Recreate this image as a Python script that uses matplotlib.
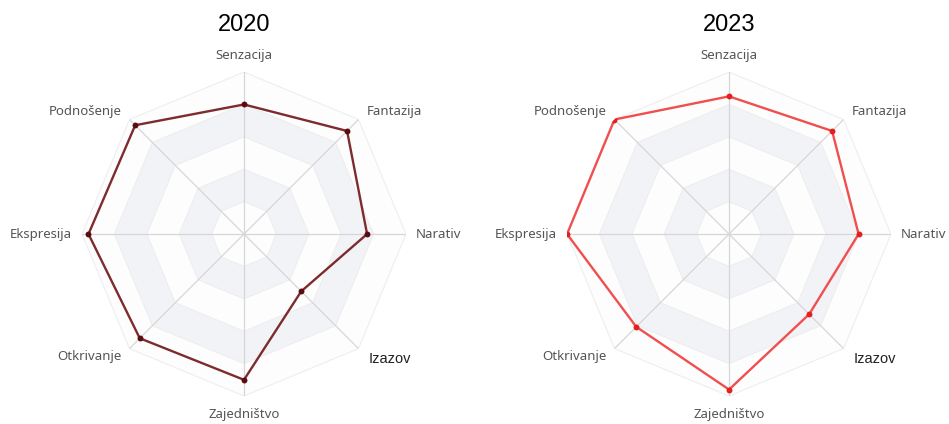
import numpy as np
import matplotlib.pyplot as plt

# Radar chart of two survey years
categories = ["Senzacija", "Fantazija", "Narativ", "Izazov",
              "Zajedništvo", "Otkrivanje", "Ekspresija", "Podnošenje"]
years = ["2020", "2023"]
values_2020 = [4.0, 4.5, 3.8, 2.5, 4.5, 4.55, 4.8, 4.75]
values_2023 = [4.25, 4.5, 4.0, 3.5, 4.8, 4.05, 5.0, 5.0]
max_value = 5
levels = [1, 2, 3, 4, 5]

line_colors = ["#7d2b2d", "#f04f4f"]
dot_colors = ["#5a0c0e", "#e3201f"]

n = len(categories)
angles = np.arange(n) * 2 * np.pi / n
closed = np.append(angles, angles[0])

fig = plt.figure(figsize=(9.49, 4.24), dpi=100)
fig.patch.set_facecolor("white")

band_colors = ["#fdfdfe", "#f2f3f7", "#fdfdfe", "#f2f3f7", "#fdfdfd"]


def draw_radar(ax, title, vals, lc, dc):
    ax.set_theta_offset(np.pi / 2)
    ax.set_theta_direction(-1)
    ax.set_ylim(0, max_value)
    ax.grid(False)
    ax.set_xticks([])
    ax.set_yticks([])
    ax.spines["polar"].set_visible(False)
    ax.patch.set_alpha(0)

    # alternating bands, drawn from outside in
    for lvl, col in zip(levels[::-1], band_colors[::-1]):
        ax.fill(closed, [lvl] * (n + 1), color=col, lw=0, zorder=1)
    for lvl in levels:
        ax.plot(closed, [lvl] * (n + 1), color="#eeeeee", lw=0.8, zorder=2)
    for a in angles:
        ax.plot([a, a], [0, max_value], color="#d6d6d8", lw=0.9, zorder=2)

    v = np.append(vals, vals[0])
    ax.plot(closed, v, color=lc, lw=1.7, zorder=4)
    ax.scatter(angles, vals, s=18, color=dc, zorder=5, lw=0)

    for a, name in zip(angles, categories):
        s, c = np.sin(a), np.cos(a)
        if abs(s) < 0.1:
            ha = "center"
            r = 5.5 if c > 0 else 5.58
        else:
            ha = "left" if s > 0 else "right"
            r = 5.3 if abs(c) < 0.1 else 5.35
        if name == "Izazov":
            ax.text(a, r + 0.1, name, ha=ha, va="center", fontsize=10.5,
                    family="Liberation Sans", color="#222222")
        else:
            ax.text(a, r, name, ha=ha, va="center", fontsize=9.5,
                    family="Noto Sans", color="#555555")

    ax.text(0, 6.45, title, ha="center", va="center", fontsize=17,
            family="Liberation Sans", color="black")


ax1 = fig.add_axes([0.0864, 0.066, 0.3414, 0.764], projection="polar")
ax2 = fig.add_axes([0.5975, 0.066, 0.3414, 0.764], projection="polar")
draw_radar(ax1, years[0], values_2020, line_colors[0], dot_colors[0])
draw_radar(ax2, years[1], values_2023, line_colors[1], dot_colors[1])

fig.savefig("out.png", dpi=100)
